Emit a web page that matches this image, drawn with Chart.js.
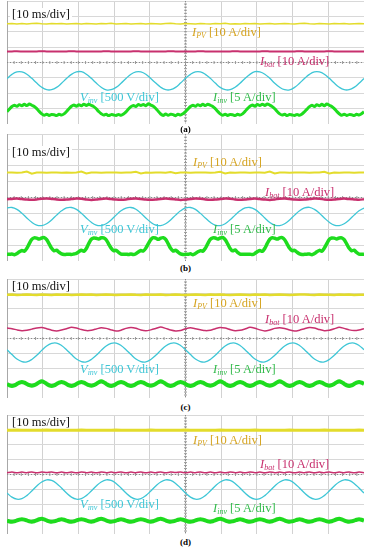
<!DOCTYPE html>
<html>
<head>
<meta charset="utf-8">
<script src="https://cdn.jsdelivr.net/npm/chart.js@4.4.1/dist/chart.umd.min.js"></script>
<style>
  body { margin: 0; width: 371px; height: 550px; background: #fff; position: relative; overflow: hidden;
         font-family: "Liberation Serif", "DejaVu Serif", serif; }
  .scope { position: absolute; left: 7px; }
  .lbl { position: absolute; font-size: 12.5px; line-height: 12px; white-space: nowrap; }
  .lbl sub { font-size: 8px; font-style: italic; vertical-align: -2px; line-height: 0; }
  .time { background: #fff; padding: 0 2px; color: #111; }
  .cap { position: absolute; left: 0; width: 371px; text-align: center; font-weight: bold; font-size: 9px; line-height: 12px; }
  .pv { color: #d6a420; } .bat { color: #c8306e; } .vinv { color: #3ec6d6; } .iinv { color: #33bb4c; }
</style>
</head>
<body>

<canvas id="scopeA" class="scope" width="357" height="123" style="top:1px"></canvas>
<canvas id="scopeB" class="scope" width="357" height="127" style="top:134px"></canvas>
<canvas id="scopeC" class="scope" width="357" height="119" style="top:279px"></canvas>
<canvas id="scopeD" class="scope" width="357" height="119" style="top:415px"></canvas>

<div class="lbl time" style="left:10px;top:8px">[10 ms/div]</div>
<div class="lbl pv" style="left:192px;top:26px"><i>I</i><sub>PV</sub> [10 A/div]</div>
<div class="lbl bat" style="left:260px;top:55px"><i>I</i><sub>bat</sub> [10 A/div]</div>
<div class="lbl vinv" style="left:80px;top:91px"><i>V</i><sub>inv</sub> [500 V/div]</div>
<div class="lbl iinv" style="left:213px;top:91px"><i>I</i><sub>inv</sub> [5 A/div]</div>
<div class="cap" style="top:123px">(a)</div>

<div class="lbl time" style="left:10px;top:146px">[10 ms/div]</div>
<div class="lbl pv" style="left:193px;top:156px"><i>I</i><sub>PV</sub> [10 A/div]</div>
<div class="lbl bat" style="left:265px;top:186px"><i>I</i><sub>bat</sub> [10 A/div]</div>
<div class="lbl vinv" style="left:80px;top:223px"><i>V</i><sub>inv</sub> [500 V/div]</div>
<div class="lbl iinv" style="left:213px;top:223px"><i>I</i><sub>inv</sub> [5 A/div]</div>
<div class="cap" style="top:262px">(b)</div>

<div class="lbl time" style="left:10px;top:280px">[10 ms/div]</div>
<div class="lbl pv" style="left:193px;top:297px"><i>I</i><sub>PV</sub> [10 A/div]</div>
<div class="lbl bat" style="left:265px;top:313px"><i>I</i><sub>bat</sub> [10 A/div]</div>
<div class="lbl vinv" style="left:80px;top:363px"><i>V</i><sub>inv</sub> [500 V/div]</div>
<div class="lbl iinv" style="left:213px;top:363px"><i>I</i><sub>inv</sub> [5 A/div]</div>
<div class="cap" style="top:401px">(c)</div>

<div class="lbl time" style="left:10px;top:416px">[10 ms/div]</div>
<div class="lbl pv" style="left:193px;top:434px"><i>I</i><sub>PV</sub> [10 A/div]</div>
<div class="lbl bat" style="left:260px;top:458px"><i>I</i><sub>bat</sub> [10 A/div]</div>
<div class="lbl vinv" style="left:80px;top:498px"><i>V</i><sub>inv</sub> [500 V/div]</div>
<div class="lbl iinv" style="left:213px;top:502px"><i>I</i><sub>inv</sub> [5 A/div]</div>
<div class="cap" style="top:536px">(d)</div>

<script>
// screen is 10 x 8 divisions, 10 ms/div; values below are trace positions in divisions (0 = bottom)
var STEP12 = 100 / 72;   // ms between samples, 12 per 60 Hz cycle
var STEP24 = 100 / 144;  // 24 per cycle

// ---- (a) ----
var ipvA = [
  6.52,6.54,6.51,6.53,6.50,6.53,6.55,6.52,6.51,6.53,6.52,6.54,
  6.50,6.52,6.53,6.51,6.54,6.52,6.50,6.53,6.52,6.55,6.51,6.52,
  6.53,6.50,6.52,6.54,6.51,6.53,6.52,6.50,6.53,6.55,6.52,6.51,
  6.53,6.52,6.50,6.54,6.52,6.51,6.53,6.52,6.55,6.51,6.52,6.50,
  6.53,6.52,6.54,6.51,6.52,6.53,6.50,6.52,6.54,6.52,6.51,6.53,
  6.55,6.52,6.50,6.53,6.52,6.51,6.54,6.52,6.53,6.50,6.52,6.54,
  6.52];
var ibatA = [
  4.72,4.72,4.73,4.72,4.71,4.72,4.72,4.73,4.72,4.72,4.71,4.72,
  4.72,4.73,4.72,4.72,4.71,4.72,4.72,4.72,4.73,4.72,4.72,4.71,
  4.72,4.72,4.73,4.72,4.72,4.71,4.72,4.72,4.72,4.73,4.72,4.72,
  4.71,4.72,4.72,4.73,4.72,4.72,4.71,4.72,4.72,4.72,4.73,4.72,
  4.72,4.71,4.72,4.72,4.73,4.72,4.72,4.71,4.72,4.72,4.72,4.73,
  4.72,4.72,4.71,4.72,4.72,4.73,4.72,4.72,4.71,4.72,4.72,4.72,
  4.72];
var vinvA = [
  2.96,3.23,3.39,3.39,3.24,2.97,2.66,2.39,2.23,2.23,2.38,2.65,
  2.96,3.23,3.39,3.40,3.24,2.97,2.66,2.39,2.22,2.23,2.38,2.65,
  2.96,3.24,3.39,3.39,3.24,2.96,2.66,2.39,2.23,2.23,2.38,2.66,
  2.97,3.23,3.39,3.39,3.23,2.97,2.66,2.38,2.23,2.23,2.39,2.65,
  2.96,3.23,3.40,3.39,3.24,2.97,2.65,2.39,2.23,2.22,2.38,2.65,
  2.96,3.23,3.39,3.39,3.24,2.97,2.66,2.39,2.23,2.23,2.38,2.65,
  2.96];
var iinvA = [
  0.80,0.98,1.14,1.22,1.15,1.26,1.19,1.28,1.20,1.30,1.22,1.14,1.00,0.82,0.66,0.57,0.64,0.56,0.62,0.60,0.55,0.63,0.58,0.66,
  0.81,0.99,1.15,1.23,1.16,1.25,1.18,1.29,1.21,1.28,1.21,1.13,0.99,0.81,0.67,0.58,0.63,0.55,0.61,0.59,0.56,0.62,0.57,0.65,
  0.79,0.97,1.13,1.21,1.14,1.27,1.20,1.27,1.19,1.31,1.23,1.15,1.01,0.83,0.65,0.56,0.65,0.57,0.63,0.61,0.54,0.64,0.59,0.67,
  0.80,0.98,1.14,1.22,1.15,1.26,1.19,1.28,1.20,1.29,1.22,1.14,1.00,0.82,0.66,0.57,0.64,0.56,0.62,0.60,0.55,0.63,0.58,0.66,
  0.82,1.00,1.15,1.23,1.16,1.27,1.20,1.29,1.21,1.30,1.23,1.13,0.99,0.81,0.66,0.58,0.63,0.55,0.62,0.59,0.56,0.62,0.57,0.65,
  0.80,0.97,1.13,1.22,1.14,1.25,1.18,1.28,1.19,1.30,1.22,1.14,1.00,0.82,0.67,0.57,0.64,0.56,0.61,0.60,0.55,0.63,0.58,0.66,
  0.80];

// ---- (b) ----
var ipvB = [
  5.57,5.58,5.56,5.57,5.63,5.50,5.57,5.58,5.56,5.57,5.58,5.56,
  5.57,5.56,5.58,5.64,5.51,5.57,5.58,5.56,5.57,5.58,5.57,5.56,
  5.58,5.57,5.62,5.52,5.57,5.56,5.58,5.57,5.56,5.60,5.53,5.57,
  5.58,5.56,5.57,5.58,5.57,5.56,5.58,5.62,5.52,5.57,5.56,5.58,
  5.57,5.56,5.58,5.57,5.56,5.63,5.51,5.57,5.58,5.56,5.57,5.58,
  5.57,5.56,5.58,5.57,5.62,5.52,5.57,5.56,5.58,5.57,5.56,5.58,
  5.57];
var ibatB = [
  3.89,3.91,3.93,3.90,3.87,3.86,3.88,3.92,3.94,3.91,3.88,3.86,
  3.87,3.90,3.93,3.92,3.88,3.85,3.87,3.91,3.93,3.90,3.87,3.86,
  3.88,3.92,3.94,3.91,3.87,3.86,3.88,3.91,3.93,3.91,3.88,3.85,
  3.87,3.91,3.94,3.92,3.88,3.86,3.87,3.90,3.93,3.92,3.88,3.86,
  3.88,3.91,3.93,3.90,3.87,3.85,3.88,3.92,3.94,3.91,3.87,3.86,
  3.87,3.90,3.93,3.92,3.88,3.86,3.88,3.91,3.93,3.90,3.88,3.86,
  3.89];
var vinvB = [
  3.34,3.37,3.25,3.01,2.71,2.44,2.26,2.23,2.35,2.59,2.89,3.16,
  3.34,3.37,3.25,3.01,2.71,2.44,2.26,2.23,2.35,2.59,2.89,3.16,
  3.33,3.37,3.26,3.01,2.71,2.44,2.26,2.23,2.35,2.59,2.89,3.16,
  3.34,3.37,3.25,3.00,2.71,2.44,2.26,2.23,2.35,2.60,2.89,3.16,
  3.34,3.37,3.25,3.01,2.71,2.43,2.26,2.23,2.35,2.59,2.89,3.16,
  3.34,3.38,3.25,3.01,2.71,2.44,2.26,2.23,2.35,2.59,2.89,3.16,
  3.34];
var iinvB = [
  0.43,0.42,0.44,0.40,0.47,0.58,0.66,0.62,0.80,1.10,1.36,1.46,1.44,1.38,1.45,1.47,1.35,1.08,0.80,0.64,0.68,0.55,0.45,0.41,
  0.42,0.43,0.41,0.44,0.48,0.59,0.67,0.61,0.79,1.11,1.37,1.45,1.43,1.39,1.46,1.46,1.34,1.07,0.81,0.65,0.67,0.54,0.44,0.42,
  0.43,0.41,0.44,0.41,0.46,0.57,0.66,0.63,0.81,1.09,1.35,1.47,1.44,1.37,1.44,1.47,1.36,1.09,0.80,0.63,0.68,0.56,0.45,0.41,
  0.42,0.42,0.45,0.40,0.47,0.58,0.65,0.62,0.80,1.10,1.36,1.46,1.45,1.38,1.45,1.48,1.35,1.08,0.79,0.64,0.69,0.55,0.44,0.42,
  0.43,0.42,0.43,0.41,0.48,0.59,0.66,0.61,0.80,1.11,1.37,1.46,1.43,1.38,1.46,1.47,1.34,1.07,0.80,0.65,0.67,0.55,0.45,0.41,
  0.42,0.43,0.44,0.40,0.47,0.58,0.67,0.62,0.81,1.10,1.36,1.45,1.44,1.39,1.45,1.46,1.35,1.08,0.81,0.64,0.68,0.54,0.44,0.42,
  0.43];

// ---- (c) ----
var ipvC = [
  6.94,6.95,6.93,6.94,6.96,6.94,6.93,6.95,6.94,6.93,6.95,6.94,
  6.95,6.93,6.94,6.95,6.94,6.96,6.93,6.94,6.95,6.94,6.93,6.94,
  6.94,6.96,6.94,6.93,6.95,6.94,6.94,6.95,6.93,6.94,6.96,6.94,
  6.93,6.94,6.95,6.94,6.93,6.95,6.94,6.96,6.94,6.93,6.94,6.95,
  6.94,6.93,6.95,6.94,6.96,6.93,6.94,6.95,6.94,6.93,6.94,6.95,
  6.96,6.94,6.93,6.95,6.94,6.94,6.93,6.95,6.94,6.96,6.93,6.94,
  6.94];
var ibatC = [
  4.70,4.66,4.58,4.52,4.55,4.63,4.71,4.74,4.66,4.56,4.51,4.57,
  4.66,4.76,4.70,4.60,4.53,4.55,4.64,4.73,4.68,4.58,4.50,4.56,
  4.68,4.74,4.69,4.57,4.52,4.58,4.67,4.77,4.68,4.57,4.51,4.54,
  4.65,4.72,4.66,4.59,4.53,4.56,4.66,4.74,4.70,4.60,4.52,4.55,
  4.64,4.75,4.69,4.58,4.51,4.57,4.68,4.73,4.67,4.57,4.50,4.56,
  4.66,4.74,4.71,4.60,4.52,4.55,4.65,4.76,4.68,4.58,4.53,4.57,
  4.66];
var vinvC = [
  3.25,2.92,2.62,2.45,2.43,2.59,2.87,3.20,3.50,3.67,3.69,3.53,
  3.25,2.92,2.62,2.45,2.43,2.59,2.87,3.20,3.50,3.67,3.69,3.53,
  3.25,2.92,2.62,2.45,2.43,2.59,2.87,3.20,3.50,3.67,3.69,3.53,
  3.25,2.92,2.62,2.45,2.43,2.59,2.87,3.20,3.50,3.67,3.69,3.53,
  3.25,2.92,2.62,2.45,2.43,2.59,2.87,3.20,3.50,3.67,3.69,3.53,
  3.25,2.92,2.62,2.45,2.43,2.59,2.87,3.20,3.50,3.67,3.69,3.53,
  3.25];
var iinvC = [
  0.94,0.85,0.81,0.85,0.94,1.03,1.08,1.03,0.94,0.86,0.82,0.86,0.95,1.06,1.12,1.06,0.95,0.85,0.81,0.85,0.94,1.03,1.08,1.03,
  0.94,0.85,0.81,0.85,0.94,1.03,1.08,1.03,0.94,0.86,0.82,0.86,0.95,1.06,1.12,1.06,0.95,0.85,0.81,0.85,0.94,1.03,1.08,1.03,
  0.94,0.85,0.81,0.85,0.94,1.03,1.08,1.03,0.94,0.86,0.82,0.86,0.95,1.06,1.12,1.06,0.95,0.85,0.81,0.85,0.94,1.03,1.08,1.03,
  0.94,0.85,0.81,0.85,0.94,1.03,1.08,1.03,0.94,0.86,0.82,0.86,0.95,1.06,1.12,1.06,0.95,0.85,0.81,0.85,0.94,1.03,1.08,1.03,
  0.94,0.85,0.81,0.85,0.94,1.03,1.08,1.03,0.94,0.86,0.82,0.86,0.95,1.06,1.12,1.06,0.95,0.85,0.81,0.85,0.94,1.03,1.08,1.03,
  0.94,0.85,0.81,0.85,0.94,1.03,1.08,1.03,0.94,0.86,0.82,0.86,0.95,1.06,1.12,1.06,0.95,0.85,0.81,0.85,0.94,1.03,1.08,1.03,
  0.94];

// ---- (d) ----
var ipvD = [
  6.98,6.98,6.99,6.98,6.98,6.97,6.98,6.98,6.99,6.98,6.98,6.98,
  6.97,6.98,6.98,6.99,6.98,6.98,6.98,6.97,6.98,6.98,6.99,6.98,
  6.98,6.98,6.97,6.98,6.98,6.99,6.98,6.98,6.98,6.97,6.98,6.98,
  6.99,6.98,6.98,6.98,6.97,6.98,6.98,6.99,6.98,6.98,6.98,6.97,
  6.98,6.98,6.99,6.98,6.98,6.98,6.97,6.98,6.98,6.99,6.98,6.98,
  6.98,6.97,6.98,6.98,6.99,6.98,6.98,6.98,6.97,6.98,6.98,6.99,
  6.98];
var ibatD = [
  4.12,4.17,4.11,4.16,4.12,4.17,4.11,4.16,4.13,4.17,4.11,4.16,
  4.12,4.16,4.11,4.17,4.12,4.16,4.11,4.17,4.12,4.16,4.12,4.17,
  4.11,4.16,4.12,4.17,4.11,4.16,4.12,4.17,4.11,4.16,4.13,4.17,
  4.11,4.16,4.12,4.17,4.11,4.16,4.12,4.16,4.11,4.17,4.12,4.16,
  4.11,4.17,4.12,4.16,4.11,4.17,4.12,4.16,4.12,4.17,4.11,4.16,
  4.12,4.17,4.11,4.16,4.12,4.17,4.11,4.16,4.12,4.17,4.11,4.16,
  4.12];
var vinvD = [
  2.75,2.48,2.34,2.38,2.58,2.89,3.23,3.50,3.64,3.60,3.40,3.09,
  2.75,2.48,2.34,2.38,2.58,2.89,3.23,3.50,3.64,3.60,3.40,3.09,
  2.75,2.48,2.34,2.38,2.58,2.89,3.23,3.50,3.64,3.60,3.40,3.09,
  2.75,2.48,2.34,2.38,2.58,2.89,3.23,3.50,3.64,3.60,3.40,3.09,
  2.75,2.48,2.34,2.38,2.58,2.89,3.23,3.50,3.64,3.60,3.40,3.09,
  2.75,2.48,2.34,2.38,2.58,2.89,3.23,3.50,3.64,3.60,3.40,3.09,
  2.75];
var iinvD = [
  0.90,0.84,0.82,0.85,0.91,0.97,1.00,0.97,0.91,0.85,0.83,0.86,0.92,0.99,1.02,0.98,0.91,0.85,0.82,0.85,0.90,0.96,0.99,0.96,
  0.90,0.84,0.82,0.85,0.91,0.97,1.00,0.97,0.91,0.85,0.83,0.86,0.92,0.99,1.02,0.98,0.91,0.85,0.82,0.85,0.90,0.96,0.99,0.96,
  0.90,0.84,0.82,0.85,0.91,0.97,1.00,0.97,0.91,0.85,0.83,0.86,0.92,0.99,1.02,0.98,0.91,0.85,0.82,0.85,0.90,0.96,0.99,0.96,
  0.90,0.84,0.82,0.85,0.91,0.97,1.00,0.97,0.91,0.85,0.83,0.86,0.92,0.99,1.02,0.98,0.91,0.85,0.82,0.85,0.90,0.96,0.99,0.96,
  0.90,0.84,0.82,0.85,0.91,0.97,1.00,0.97,0.91,0.85,0.83,0.86,0.92,0.99,1.02,0.98,0.91,0.85,0.82,0.85,0.90,0.96,0.99,0.96,
  0.90,0.84,0.82,0.85,0.91,0.97,1.00,0.97,0.91,0.85,0.83,0.86,0.92,0.99,1.02,0.98,0.91,0.85,0.82,0.85,0.90,0.96,0.99,0.96,
  0.90];

var YELLOW = '#e3dc2c', MAGENTA = '#c8306e', CYAN = '#3ec6d6', GREEN = '#1edc1e';

function pts(arr, step) {
  return arr.map(function (v, i) { return { x: i * step, y: v }; });
}

// dotted centre cross with small tick marks, like the scope graticule
var graticule = {
  id: 'graticule',
  beforeDatasetsDraw: function (chart) {
    var ctx = chart.ctx, a = chart.chartArea;
    var cx = chart.scales.x.getPixelForValue(50), cy = chart.scales.y.getPixelForValue(4);
    ctx.save();
    ctx.strokeStyle = '#8a8a8a';
    ctx.lineWidth = 1;
    ctx.setLineDash([1, 2]);
    ctx.beginPath();
    ctx.moveTo(cx, a.top); ctx.lineTo(cx, a.bottom);
    ctx.moveTo(a.left, cy); ctx.lineTo(a.right, cy);
    ctx.stroke();
    ctx.setLineDash([]);
    ctx.strokeStyle = '#9a9a9a';
    ctx.beginPath();
    var sx = (a.right - a.left) / 50, sy = (a.bottom - a.top) / 40;
    for (var i = 1; i < 50; i++) { ctx.moveTo(a.left + i * sx, cy - 1.5); ctx.lineTo(a.left + i * sx, cy + 1.5); }
    for (var j = 1; j < 40; j++) { ctx.moveTo(cx - 1.5, a.top + j * sy); ctx.lineTo(cx + 1.5, a.top + j * sy); }
    ctx.stroke();
    ctx.restore();
  }
};

function scope(id, ipv, ibat, vinv, iinv, w) {
  var ctx = document.getElementById(id).getContext('2d');
  return new Chart(ctx, {
    type: 'line',
    data: {
      datasets: [
        { data: pts(ipv, STEP12), borderColor: YELLOW, borderWidth: w[0], pointRadius: 0, tension: 0 },
        { data: pts(ibat, STEP12), borderColor: MAGENTA, borderWidth: w[1], pointRadius: 0, tension: 0.2 },
        { data: pts(vinv, STEP12), borderColor: CYAN, borderWidth: w[2], pointRadius: 0, tension: 0.4 },
        { data: pts(iinv, STEP24), borderColor: GREEN, borderWidth: w[3], pointRadius: 0, tension: 0.3 }
      ]
    },
    options: {
      responsive: false,
      animation: false,
      layout: { padding: 0 },
      plugins: { legend: { display: false }, tooltip: { enabled: false } },
      scales: {
        x: {
          type: 'linear', min: 0, max: 100,
          ticks: { display: false, stepSize: 10 },
          grid: { color: '#d2d2d2', drawTicks: false },
          border: { display: true, color: '#a8a8a8' }
        },
        y: {
          min: 0, max: 8,
          ticks: { display: false, stepSize: 1 },
          grid: { color: '#d8d8d8', drawTicks: false },
          border: { display: true, color: '#a8a8a8' }
        }
      }
    },
    plugins: [graticule]
  });
}

scope('scopeA', ipvA, ibatA, vinvA, iinvA, [1.5, 2, 1.3, 3]);
scope('scopeB', ipvB, ibatB, vinvB, iinvB, [2, 2.5, 1.3, 3.5]);
scope('scopeC', ipvC, ibatC, vinvC, iinvC, [2.5, 1.5, 1.3, 4]);
scope('scopeD', ipvD, ibatD, vinvD, iinvD, [3, 1.5, 1.3, 4]);
</script>
</body>
</html>
